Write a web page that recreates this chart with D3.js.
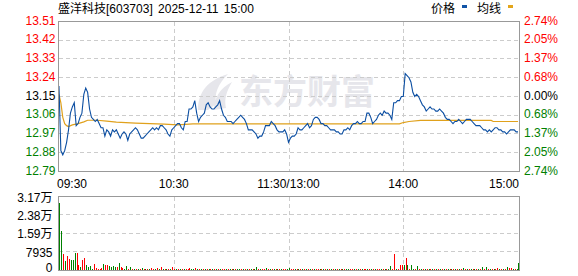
<!DOCTYPE html>
<html>
<head>
<meta charset="utf-8">
<script src="https://cdn.jsdelivr.net/npm/d3@7"></script>
<style>
  html, body { margin: 0; padding: 0; background: #fff; }
  svg { display: block; font-family: "Liberation Sans", Arial, "Noto Sans CJK SC", sans-serif; }
</style>
</head>
<body>
<svg id="chart"></svg>
<script>
// ---- data ----
const stockTitle = "盛洋科技[603703] 2025-12-11 15:00";
const legendNames = ["价格", "均线"];
const prevClose = 13.15;

const priceTicks = [13.51, 13.42, 13.33, 13.24, 13.15, 13.06, 12.97, 12.88, 12.79];
const pctTicks = ["2.74%", "2.05%", "1.37%", "0.68%", "0.00%", "0.68%", "1.37%", "2.05%", "2.74%"];
const volTicks = [31740, 23805, 15870, 7935, 0];
const volTickLabels = ["3.17万", "2.38万", "1.59万", "7935", "0"];
const timeTicks = [0, 60, 120, 180, 240];
const timeLabels = ["09:30", "10:30", "11:30/13:00", "14:00", "15:00"];

// one price per minute, 09:30 .. 15:00 (241 points)
const prices = [
  13.20, 12.89, 12.87, 12.89, 12.93, 12.99, 13.07, 13.10, 13.12, 13.01,
  13.02, 13.05, 13.07, 13.16, 13.19, 13.17, 13.09, 13.05, 13.04, 13.03,
  13.04, 13.02, 13.00, 13.00, 12.96, 12.99, 12.98, 12.96, 12.99, 12.98,
  12.99, 12.97, 12.95, 12.97, 12.98, 12.97, 12.94, 12.97, 12.98, 12.99,
  13.00, 12.99, 12.97, 12.95, 12.95, 12.96, 12.97, 12.98, 12.99, 13.00,
  12.99, 13.00, 12.99, 13.01, 13.01, 13.00, 12.99, 12.97, 12.96, 12.99,
  13.00, 13.01, 13.02, 13.02, 13.00, 12.99, 13.03, 13.03, 13.09, 13.09,
  13.10, 13.13, 13.07, 13.03, 13.05, 13.06, 13.07, 13.11, 13.12, 13.10,
  13.09, 13.09, 13.10, 13.11, 13.13, 13.09, 13.06, 13.05, 13.03, 13.03,
  13.03, 13.02, 13.03, 13.04, 13.05, 13.06, 13.05, 13.04, 13.02, 12.99,
  12.99, 12.99, 12.98, 12.97, 12.95, 12.96, 12.96, 12.98, 13.01, 13.01,
  13.01, 13.03, 13.02, 13.01, 12.99, 12.98, 12.98, 12.98, 12.99, 12.97,
  12.93, 12.95, 12.96, 12.96, 12.97, 13.00, 12.99, 12.99, 13.00, 13.01,
  13.02, 13.00, 13.01, 13.04, 13.05, 13.05, 13.04, 13.02, 13.02, 13.01,
  13.01, 13.00, 12.99, 12.99, 12.99, 12.98, 12.98, 12.97, 12.97, 12.99,
  12.99, 13.00, 12.99, 13.01, 13.02, 13.02, 13.03, 13.02, 13.02, 13.03,
  13.03, 13.07, 13.07, 13.05, 13.02, 13.03, 13.04, 13.06, 13.07, 13.06,
  13.08, 13.07, 13.07, 13.06, 13.04, 13.12, 13.12, 13.13, 13.13, 13.15,
  13.15, 13.26, 13.25, 13.24, 13.22, 13.17, 13.15, 13.16, 13.15, 13.13,
  13.11, 13.10, 13.08, 13.09, 13.10, 13.09, 13.09, 13.08, 13.08, 13.09,
  13.08, 13.07, 13.05, 13.04, 13.04, 13.03, 13.02, 13.03, 13.03, 13.04,
  13.03, 13.02, 13.03, 13.04, 13.04, 13.04, 13.03, 13.02, 13.01, 13.01,
  13.01, 13.00, 12.99, 12.99, 12.98, 12.99, 12.98, 12.99, 13.00, 13.00,
  12.99, 12.99, 12.98, 12.98, 12.97, 12.98, 12.99, 12.99, 12.99, 12.98,
  12.98
];

// average price line, [minute, price]
const avgPoints = [
  [0, 13.16], [1, 13.12], [2, 13.05], [3, 13.02], [4, 13.01], [5, 13.006],
  [7, 13.014], [10, 13.02], [13, 13.028], [15, 13.036], [20, 13.036], [25, 13.032],
  [30, 13.027], [40, 13.022], [55, 13.017], [62, 13.014], [70, 13.019], [120, 13.019],
  [178, 13.019], [180, 13.025], [183, 13.03], [189, 13.035], [226, 13.035], [227, 13.03],
  [240, 13.03]
];

// volume per minute and bar colour (r = up, g = down)
const volumes = [
  29000, 16800, 7100, 3800, 5900, 4700, 4300, 4500, 7500, 7500,
  2100, 1400, 4300, 5100, 2100, 1300, 1700, 500, 2500, 900,
  500, 500, 1000, 2500, 2100, 2100, 1700, 1300, 1700, 1300,
  1300, 3000, 1300, 900, 600, 1700, 500, 1300, 500, 600,
  500, 500, 500, 850, 500, 600, 500, 500, 700, 500,
  500, 900, 500, 1400, 500, 500, 600, 500, 500, 1400,
  500, 450, 500, 500, 500, 500, 500, 500, 700, 450,
  500, 700, 450, 500, 450, 500, 500, 450, 500, 500,
  450, 500, 450, 500, 500, 450, 500, 450, 500, 450,
  500, 450, 500, 450, 500, 500, 450, 500, 450, 500,
  450, 500, 500, 1300, 450, 500, 500, 500, 800, 450,
  500, 450, 500, 450, 500, 450, 500, 450, 500, 500,
  800, 500, 450, 500, 450, 500, 450, 500, 450, 500,
  450, 500, 450, 500, 500, 450, 500, 450, 500, 450,
  500, 450, 500, 450, 500, 450, 500, 450, 500, 450,
  500, 450, 500, 450, 500, 450, 500, 500, 450, 500,
  450, 500, 450, 500, 450, 500, 450, 500, 500, 500,
  450, 500, 450, 1700, 500, 6900, 500, 450, 2200, 2200,
  2200, 5200, 2200, 500, 2200, 500, 500, 1700, 500, 450,
  500, 450, 500, 450, 500, 450, 500, 450, 500, 450,
  500, 450, 500, 450, 500, 450, 500, 450, 500, 450,
  500, 800, 450, 500, 450, 500, 450, 500, 450, 500,
  450, 1300, 500, 1300, 450, 500, 450, 500, 450, 800,
  500, 450, 500, 450, 1300, 800, 800, 450, 500, 450,
  3000
];
const volDir = (
  "ggrgrrgggr" + "rgrrggggrr" + "rrrgrrgggg" + "rgrrggrgrg" + "rgrgrgrgrr" +
  "grgrgrgrgr" + "rgrgrgrrrg" + "grgrgrgrgr" + "grgrgrrgrg" + "rgrggrgrgr" +
  "grggrgrrgr" + "grgrgrgrrg" + "grrgrgrgrg" + "rgrgrrgrgr" + "grgrgrgrgr" +
  "ggrrgrgrgr" + "rgrgrgrrgr" + "grggrrgrrr" + "grgrggrgrg" + "rgrgrgrgrg" +
  "rgrgrgrgrg" + "rgrgrgrgrg" + "rgrgrgrgrr" + "grgrgrrgrg" + "g"
).split("");

// ---- chart ----
class IntradayChart {
  constructor(_config) {
    this.config = {
      parentElement: _config.parentElement,
      containerWidth: _config.containerWidth || 578,
      containerHeight: _config.containerHeight || 276
    };
    this.initVis();
  }

  initVis() {
    let vis = this;
    vis.left = 58.5;
    vis.right = 519.5;
    vis.priceTop = 21.5;
    vis.priceBottom = 171.5;
    vis.volTop = 196.5;
    vis.volBottom = 270.5;

    vis.svg = d3.select(vis.config.parentElement)
        .attr('width', vis.config.containerWidth)
        .attr('height', vis.config.containerHeight);

    vis.xScale = d3.scalePoint()
        .domain(d3.range(0, 241))
        .range([58, 519])
        .padding(0.5);

    vis.yPrice = d3.scaleLinear()
        .domain([12.79, 13.51])
        .range([vis.priceBottom, vis.priceTop]);

    vis.yVol = d3.scaleLinear()
        .domain([0, 31740])
        .range([vis.volBottom - 0.5, vis.volTop]);

    vis.tickColor = v => v > prevClose ? '#ff0000' : (v < prevClose ? '#008000' : '#000000');

    vis.updateVis();
  }

  updateVis() {
    let vis = this;
    vis.priceData = prices.map((p, i) => ({ m: i, p: p }));
    vis.volData = volumes.map((v, i) => ({ m: i, v: v, dir: volDir[i] }));
    vis.renderVis();
  }

  renderVis() {
    let vis = this;
    const gridX = timeTicks.slice(1, 4).map(m => Math.round(vis.xScale(m)) + 0.5);

    // title + legend
    vis.svg.append('text')
        .attr('x', 58).attr('y', 10)
        .attr('dominant-baseline', 'middle')
        .style('font-size', '12px')
        .style('word-spacing', '2px')
        .text(stockTitle);

    const legend = vis.svg.append('g').attr('class', 'legend');
    legend.append('text').attr('x', 431).attr('y', 10)
        .attr('dominant-baseline', 'middle').style('font-size', '12px').text(legendNames[0]);
    legend.append('rect').attr('x', 462).attr('y', 5).attr('width', 5).attr('height', 3).attr('fill', '#1153a6');
    legend.append('text').attr('x', 477).attr('y', 10)
        .attr('dominant-baseline', 'middle').style('font-size', '12px').text(legendNames[1]);
    legend.append('rect').attr('x', 508).attr('y', 5).attr('width', 5).attr('height', 3).attr('fill', '#e3a51b');

    // watermark
    const wm = vis.svg.append('g').attr('class', 'watermark').attr('fill', '#e6e6eb');
    wm.append('path')
        .attr('d', 'M198,110 C198,92 208,80 228,74 C218,84 214,94 216,104 L208,110 Z M214,110 C214,98 220,88 232,82 C226,92 224,100 226,108 Z');
    wm.append('text')
        .attr('x', 239).attr('y', 95)
        .attr('dominant-baseline', 'middle')
        .style('font-size', '34px').style('font-weight', 'bold')
        .style('font-family', '"Noto Sans CJK SC", sans-serif')
        .text('东方财富');

    // price panel grid
    const grid = vis.svg.append('g').attr('class', 'grid')
        .attr('stroke', '#cccccc').attr('stroke-dasharray', '4,3')
        .attr('shape-rendering', 'crispEdges');
    grid.selectAll('.hp').data(priceTicks.slice(1, 8)).join('line')
        .attr('x1', vis.left).attr('x2', vis.right)
        .attr('y1', d => Math.round(vis.yPrice(d) - 0.5) + 0.5)
        .attr('y2', d => Math.round(vis.yPrice(d) - 0.5) + 0.5);
    grid.selectAll('.vp').data(gridX).join('line')
        .attr('class', 'vp')
        .attr('x1', d => d).attr('x2', d => d)
        .attr('y1', vis.priceTop).attr('y2', vis.priceBottom);

    // volume panel grid
    const vgrid = vis.svg.append('g').attr('class', 'grid')
        .attr('stroke', '#cccccc').attr('stroke-dasharray', '4,3')
        .attr('shape-rendering', 'crispEdges');
    vgrid.selectAll('.hv').data(volTicks.slice(1, 4)).join('line')
        .attr('x1', vis.left).attr('x2', vis.right)
        .attr('y1', d => Math.round(vis.yVol(d) - 0.5) + 0.5)
        .attr('y2', d => Math.round(vis.yVol(d) - 0.5) + 0.5);
    vgrid.selectAll('.vv').data(gridX).join('line')
        .attr('class', 'vv')
        .attr('x1', d => d).attr('x2', d => d)
        .attr('y1', vis.volTop).attr('y2', vis.volBottom);

    // average line
    vis.svg.append('path')
        .datum(avgPoints)
        .attr('fill', 'none')
        .attr('stroke', '#e0a11c')
        .attr('stroke-width', 1.2)
        .attr('d', d3.line().x(d => vis.xScale(d[0])).y(d => vis.yPrice(d[1])));

    // price line
    vis.svg.append('path')
        .datum(vis.priceData)
        .attr('fill', 'none')
        .attr('stroke', '#0b4ea2')
        .attr('stroke-width', 1.1)
        .attr('d', d3.line().x(d => vis.xScale(d.m)).y(d => vis.yPrice(d.p)));

    // volume bars
    vis.svg.append('g').attr('class', 'vol')
        .attr('shape-rendering', 'crispEdges')
        .selectAll('rect').data(vis.volData).join('rect')
        .attr('x', d => Math.round(vis.xScale(d.m) + 0.4))
        .attr('width', 1)
        .attr('y', d => vis.yVol(d.v))
        .attr('height', d => vis.yVol(0) - vis.yVol(d.v))
        .attr('fill', d => d.dir === 'r' ? '#ff0000' : '#008000');

    // frames
    vis.svg.append('rect')
        .attr('x', vis.left).attr('y', vis.priceTop)
        .attr('width', vis.right - vis.left).attr('height', vis.priceBottom - vis.priceTop)
        .attr('fill', 'none').attr('stroke', '#999999').attr('shape-rendering', 'crispEdges');
    vis.svg.append('rect')
        .attr('x', vis.left).attr('y', vis.volTop)
        .attr('width', vis.right - vis.left).attr('height', vis.volBottom - vis.volTop)
        .attr('fill', 'none').attr('stroke', '#999999').attr('shape-rendering', 'crispEdges');

    // left price labels
    vis.svg.append('g').selectAll('text').data(priceTicks).join('text')
        .attr('x', 55.5)
        .attr('y', d => vis.yPrice(d))
        .attr('text-anchor', 'end')
        .attr('dominant-baseline', 'middle')
        .attr('fill', d => vis.tickColor(d))
        .style('font-size', '12px')
        .text(d => d.toFixed(2));

    // right percentage labels
    vis.svg.append('g').selectAll('text').data(pctTicks).join('text')
        .attr('x', 524)
        .attr('y', (d, i) => vis.yPrice(priceTicks[i]))
        .attr('dominant-baseline', 'middle')
        .attr('fill', (d, i) => vis.tickColor(priceTicks[i]))
        .style('font-size', '12px')
        .text(d => d);

    // time labels
    vis.svg.append('g').selectAll('text').data(timeLabels).join('text')
        .attr('x', (d, i) => i === 0 ? 57 : (i === 4 ? 519 : vis.xScale(timeTicks[i])))
        .attr('y', 185)
        .attr('text-anchor', (d, i) => i === 0 ? 'start' : (i === 4 ? 'end' : 'middle'))
        .attr('dominant-baseline', 'middle')
        .style('font-size', '12px')
        .text(d => d);

    // volume labels
    vis.svg.append('g').selectAll('text').data(volTickLabels).join('text')
        .attr('x', 52.5)
        .attr('y', (d, i) => Math.min(vis.yVol(volTicks[i]) + 2, 269))
        .attr('text-anchor', 'end')
        .attr('dominant-baseline', 'middle')
        .style('font-size', '12px')
        .text(d => d);
  }
}

new IntradayChart({ parentElement: '#chart' });
</script>
</body>
</html>
